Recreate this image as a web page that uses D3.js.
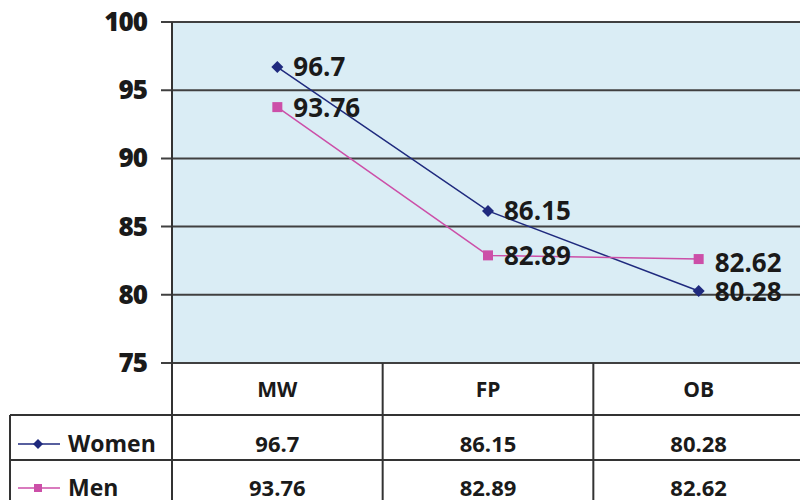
<!DOCTYPE html>
<html>
<head>
<meta charset="utf-8">
<script src="https://cdn.jsdelivr.net/npm/d3@7"></script>
<style>
  body { margin: 0; background: #fff; }
  svg { display: block; font-family: "Open Sans", sans-serif; }
</style>
</head>
<body>
<svg width="800" height="500"></svg>
<script>
// Data
const categories = ["MW", "FP", "OB"];
const women = [96.7, 86.15, 80.28];
const men = [93.76, 82.89, 82.62];
const yTicks = [75, 80, 85, 90, 95, 100];

const series = [
  { name: "Women", values: women, color: "#1f2a7e", marker: "diamond" },
  { name: "Men", values: men, color: "#cc4fa8", marker: "square" }
];

const svg = d3.select("svg");
const plotLeft = 172, plotRight = 804, plotTop = 22, plotBottom = 363;

// Scales
const x = d3.scaleBand().domain(categories).range([plotLeft, plotRight]);
const y = d3.scaleLinear().domain([75, 100]).range([plotBottom, plotTop]);

// Plot background
svg.append("rect")
  .attr("x", plotLeft).attr("y", plotTop)
  .attr("width", plotRight - plotLeft).attr("height", plotBottom - plotTop)
  .attr("fill", "#daedf5");

// Gridlines + ticks
svg.append("g")
  .selectAll("line")
  .data(yTicks)
  .enter().append("line")
  .attr("x1", 161).attr("x2", plotRight)
  .attr("y1", d => y(d)).attr("y2", d => y(d))
  .attr("stroke", "#404040")
  .attr("stroke-width", 2);

// Y labels
svg.append("g")
  .selectAll("text")
  .data(yTicks)
  .enter().append("text")
  .attr("x", 147)
  .attr("y", d => y(d) + 9)
  .attr("text-anchor", "end")
  .attr("font-size", 26)
  .attr("font-weight", 800)
  .attr("letter-spacing", -1)
  .attr("fill", "#1a1a1a")
  .text(d => d);

// Table
const rowHeader = 415, rowWomen = 460, rowMen = 505;
const tbl = svg.append("g").attr("stroke", "#333").attr("stroke-width", 2).attr("fill", "none");
// vertical lines at category boundaries
tbl.selectAll(".v")
  .data(categories)
  .enter().append("line")
  .attr("x1", d => x(d)).attr("x2", d => x(d))
  .attr("y1", (d, i) => i === 0 ? plotTop : plotBottom).attr("y2", rowMen);
tbl.append("line").attr("x1", 10).attr("x2", 10).attr("y1", rowHeader).attr("y2", rowMen);
tbl.append("line").attr("x1", 10).attr("x2", plotRight).attr("y1", rowHeader).attr("y2", rowHeader);
tbl.append("line").attr("x1", 10).attr("x2", plotRight).attr("y1", rowWomen).attr("y2", rowWomen);

// Header labels
svg.append("g")
  .selectAll("text")
  .data(categories)
  .enter().append("text")
  .attr("x", d => x(d) + x.bandwidth() / 2)
  .attr("y", 397)
  .attr("text-anchor", "middle")
  .attr("font-size", 21)
  .attr("font-weight", 700)
  .attr("fill", "#1a1a1a")
  .text(d => d);

function drawMarker(g, type, color, cx, cy, s) {
  if (type === "diamond") {
    g.append("path")
      .attr("d", `M${cx},${cy - s}L${cx + s},${cy}L${cx},${cy + s}L${cx - s},${cy}Z`)
      .attr("fill", color);
  } else {
    g.append("rect")
      .attr("x", cx - s).attr("y", cy - s)
      .attr("width", s * 2).attr("height", s * 2)
      .attr("fill", color);
  }
}

// Table rows
const rowCenters = [444, 488];
series.forEach((s, i) => {
  const g = svg.append("g");
  const cy = rowCenters[i];
  g.append("line").attr("x1", 18).attr("x2", 60).attr("y1", cy).attr("y2", cy)
    .attr("stroke", s.color).attr("stroke-width", 1.5);
  drawMarker(g, s.marker, s.color, 38, cy, s.marker === "diamond" ? 5 : 4);
  g.append("text").attr("x", 68).attr("y", cy + 8)
    .attr("font-size", 23).attr("font-weight", 700).attr("fill", "#1a1a1a")
    .text(s.name);
  g.selectAll(".val")
    .data(s.values)
    .enter().append("text")
    .attr("x", (d, j) => x(categories[j]) + x.bandwidth() / 2)
    .attr("y", cy + 8)
    .attr("text-anchor", "middle")
    .attr("font-size", 22)
    .attr("font-weight", 700)
    .attr("fill", "#1a1a1a")
    .text(d => d);
});

// Lines + markers + data labels
const line = d3.line()
  .x((d, j) => x(categories[j]) + x.bandwidth() / 2)
  .y(d => y(d));

const labelDy = { Women: [9, 9, 10], Men: [10, 10, 13] };
series.forEach(s => {
  const g = svg.append("g");
  g.append("path").datum(s.values)
    .attr("d", line)
    .attr("fill", "none")
    .attr("stroke", s.color)
    .attr("stroke-width", 1.5);
  s.values.forEach((v, j) => {
    const cx = x(categories[j]) + x.bandwidth() / 2;
    drawMarker(g, s.marker, s.color, cx, y(v), s.marker === "diamond" ? 6 : 5);
    g.append("text")
      .attr("x", cx + 16)
      .attr("y", y(v) + labelDy[s.name][j])
      .attr("font-size", 26)
      .attr("font-weight", 700)
      .attr("fill", "#1a1a1a")
      .text(v);
  });
});
</script>
</body>
</html>
